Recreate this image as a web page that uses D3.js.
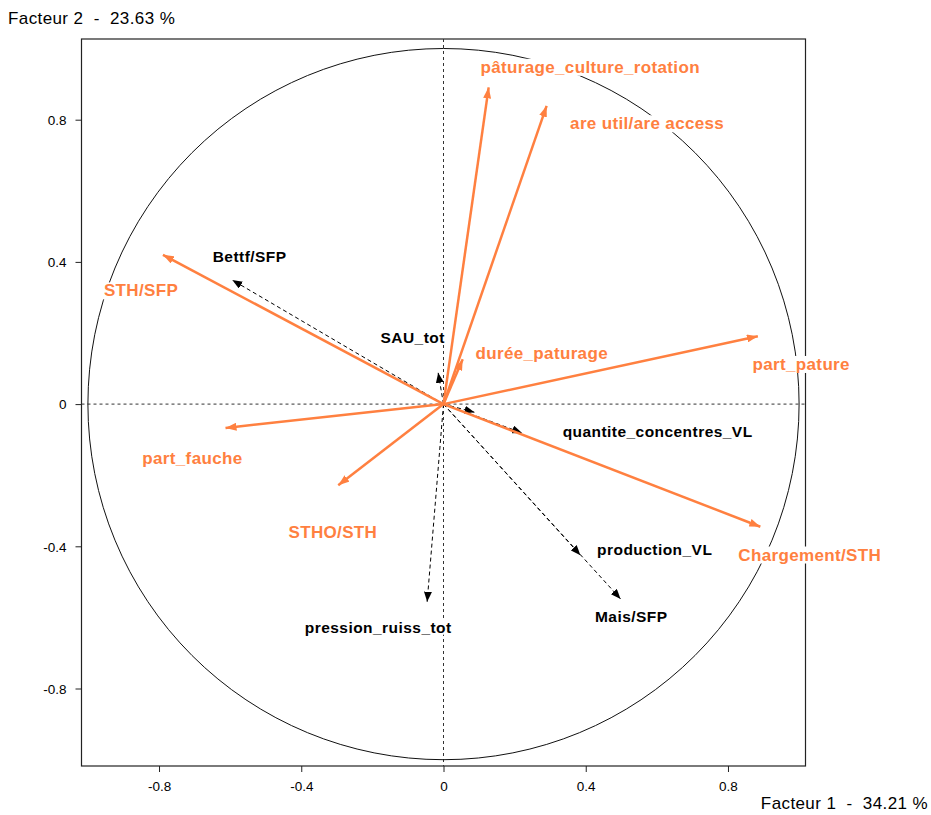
<!DOCTYPE html>
<html><head><meta charset="utf-8">
<script src="https://cdn.jsdelivr.net/npm/d3@7"></script>
<style>
body{margin:0;background:#fff;}
svg{display:block;}
</style></head>
<body>
<script>
// ---- data ----
const activeNames = ["pâturage_culture_rotation","are util/are access","STH/SFP","durée_paturage","part_pature","part_fauche","STHO/STH","Chargement/STH"];
const activeX = [0.127, 0.290, -0.789, 0.054, 0.884, -0.613, -0.296, 0.891];
const activeY = [0.891, 0.839, 0.420, 0.126, 0.191, -0.067, -0.228, -0.345];
const activeLabelX = [0.104, 0.356, -0.955, 0.090, 0.869, -0.847, -0.436, 0.829];
const activeLabelY = [0.932, 0.773, 0.303, 0.128, 0.096, -0.169, -0.377, -0.440];

const suppNames = ["Bettf/SFP","SAU_tot","","quantite_concentres_VL","production_VL","Mais/SFP","pression_ruiss_tot"];
const suppX = [-0.594, -0.015, 0.087, 0.221, 0.385, 0.498, -0.046];
const suppY = [0.349, 0.088, -0.023, -0.081, -0.425, -0.548, -0.556];
const suppLabelX = [-0.649, -0.177, 0, 0.335, 0.432, 0.426, -0.390];
const suppLabelY = [0.401, 0.173, 0, -0.093, -0.424, -0.613, -0.643];

const tickValues = [-0.8, -0.4, 0, 0.4, 0.8];
const tickLabels = ["-0.8", "-0.4", "0", "0.4", "0.8"];
const xTitle = "Facteur 1  -  34.21 %";
const yTitle = "Facteur 2  -  23.63 %";

// ---- chart ----
const W = 931, H = 815;
const orange = "#FF8040";
const font = "Liberation Sans, Arial, sans-serif";
const svg = d3.select("body").append("svg").attr("width", W).attr("height", H);

const x = d3.scaleLinear().domain([-1.018, 1.018]).range([81.5, 805.5]);
const y = d3.scaleLinear().domain([-1.018, 1.027]).range([766, 39]);

const defs = svg.append("defs");
function marker(id, color, len, wid){
  defs.append("marker").attr("id", id)
    .attr("markerUnits","userSpaceOnUse")
    .attr("viewBox", `0 ${-wid/2} ${len} ${wid}`)
    .attr("refX", len).attr("refY", 0)
    .attr("markerWidth", len).attr("markerHeight", wid)
    .attr("orient","auto")
    .append("path").attr("d", `M0,${-wid/2}L${len},0L0,${wid/2}Z`).attr("fill", color);
}
marker("ho", orange, 11, 8);
marker("hb", "#000", 10, 8);

// frame
svg.append("rect").attr("x", x.range()[0]).attr("y", y.range()[1])
  .attr("width", x.range()[1]-x.range()[0]).attr("height", y.range()[0]-y.range()[1])
  .attr("fill","none").attr("stroke","#222").attr("stroke-width",1.2);

// axes
const fmt = d => tickLabels[tickValues.indexOf(d)];
const xAxis = d3.axisBottom(x).tickValues(tickValues).tickSize(6).tickFormat(fmt);
const yAxis = d3.axisLeft(y).tickValues(tickValues).tickSize(6).tickFormat(fmt);
const gx = svg.append("g").attr("transform", `translate(0,${y.range()[0]})`).call(xAxis);
const gy = svg.append("g").attr("transform", `translate(${x.range()[0]},0)`).call(yAxis);
[gx, gy].forEach(g => {
  g.select(".domain").remove();
  g.selectAll(".tick line").attr("stroke","#222");
  g.selectAll(".tick text").attr("font-family",font).attr("font-size",13.5).attr("fill","#000");
});
gx.selectAll(".tick text").attr("dy", "1.2em");
gy.selectAll(".tick text").attr("x", -15).attr("dy","0.35em");

// dashed reference lines
svg.append("line").attr("x1", x.range()[0]).attr("x2", x.range()[1]).attr("y1", y(0)).attr("y2", y(0))
  .attr("stroke","#333").attr("stroke-dasharray","3,3");
svg.append("line").attr("x1", x(0)).attr("x2", x(0)).attr("y1", y.range()[1]).attr("y2", y.range()[0])
  .attr("stroke","#333").attr("stroke-dasharray","3,3");

// circle
svg.append("circle").attr("cx", x(0)).attr("cy", y(0)).attr("r", x(1)-x(0))
  .attr("fill","none").attr("stroke","#111").attr("stroke-width",1);

// supplementary (dashed black)
suppNames.forEach((n,i) => {
  svg.append("line").attr("x1", x(0)).attr("y1", y(0)).attr("x2", x(suppX[i])).attr("y2", y(suppY[i]))
    .attr("stroke","#000").attr("stroke-width",1).attr("stroke-dasharray","4,3")
    .attr("marker-end","url(#hb)");
});
// active (orange)
activeNames.forEach((n,i) => {
  svg.append("line").attr("x1", x(0)).attr("y1", y(0)).attr("x2", x(activeX[i])).attr("y2", y(activeY[i]))
    .attr("stroke", orange).attr("stroke-width",2.5)
    .attr("marker-end","url(#ho)");
});

// labels with white background
function label(txt, lx, ly, color, size, spacing){
  if(!txt) return;
  const g = svg.append("g");
  const r = g.append("rect").attr("fill","#fff");
  const t = g.append("text").attr("x", x(lx)).attr("y", y(ly))
    .attr("font-family",font).attr("font-weight","bold")
    .attr("font-size", size).attr("letter-spacing", spacing).attr("fill", color).text(txt);
  const b = t.node().getBBox();
  r.attr("x", b.x-1).attr("y", b.y+1).attr("width", b.width+2).attr("height", b.height-2);
}
activeNames.forEach((n,i) => label(n, activeLabelX[i], activeLabelY[i], orange, 17, 0.35));
suppNames.forEach((n,i) => label(n, suppLabelX[i], suppLabelY[i], "#000", 15.5, 0.45));

// titles
svg.append("text").attr("x", 8).attr("y", 24).attr("font-family",font)
  .attr("font-size",17).attr("letter-spacing",0.4).style("white-space","pre").attr("fill","#000").text(yTitle);
svg.append("text").attr("x", 928).attr("y", 809).attr("text-anchor","end").attr("font-family",font)
  .attr("font-size",17).attr("letter-spacing",0.4).style("white-space","pre").attr("fill","#000").text(xTitle);
</script>
</body></html>
